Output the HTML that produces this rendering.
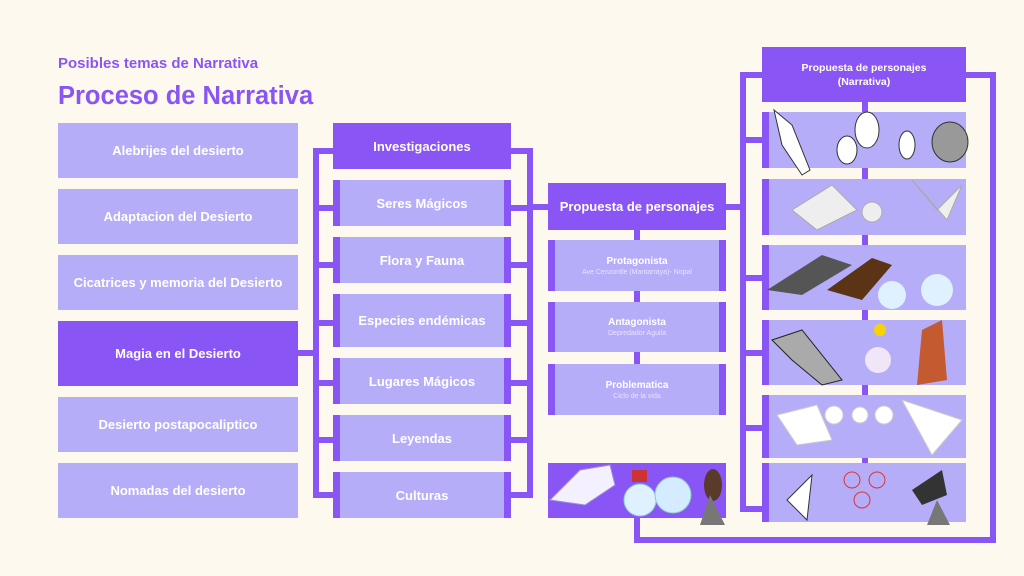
<!DOCTYPE html>
<html><head><meta charset="utf-8"><style>
*{margin:0;padding:0;box-sizing:border-box}
body{width:1024px;height:576px;background:#fdf9ef;position:relative;overflow:hidden;font-family:"Liberation Sans",sans-serif}
.a{position:absolute}
.d{position:absolute;background:#8a55f5}
.l{position:absolute;background:#b6adf9;color:#fff;font-weight:bold;font-size:13px;display:flex;flex-direction:column;align-items:center;justify-content:center;text-align:center}
.h{position:absolute;background:#8a55f5;color:#fff;font-weight:bold;display:flex;flex-direction:column;align-items:center;justify-content:center;text-align:center}
.s{border-left:7px solid #8a55f5;border-right:7px solid #8a55f5}
.sub{font-size:7px;font-weight:normal;color:#e8e4ff;margin-top:2px}
</style></head><body>
<div class="a" style="left:58px;top:55px;color:#8a55f5;font-weight:bold;font-size:15px">Posibles temas de Narrativa</div>
<div class="a" style="left:58px;top:82px;color:#8a55f5;font-weight:bold;font-size:25.5px">Proceso de Narrativa</div>

<div class="l" style="left:58px;top:123px;width:240px;height:55px">Alebrijes del desierto</div>
<div class="l" style="left:58px;top:189px;width:240px;height:55px">Adaptacion del Desierto</div>
<div class="l" style="left:58px;top:255px;width:240px;height:55px">Cicatrices y memoria del Desierto</div>
<div class="h" style="left:58px;top:321px;width:240px;height:65px;font-size:13px">Magia en el Desierto</div>
<div class="l" style="left:58px;top:397px;width:240px;height:55px">Desierto postapocaliptico</div>
<div class="l" style="left:58px;top:463px;width:240px;height:55px">Nomadas del desierto</div>

<div class="d" style="left:298px;top:350px;width:20px;height:6px"></div>
<div class="d" style="left:313px;top:148px;width:6px;height:350px"></div>
<div class="d" style="left:313px;top:148px;width:20px;height:6px"></div>
<div class="d" style="left:313px;top:492px;width:20px;height:6px"></div>
<div class="d" style="left:313px;top:205px;width:20px;height:6px"></div>
<div class="d" style="left:313px;top:262px;width:20px;height:6px"></div>
<div class="d" style="left:313px;top:320px;width:20px;height:6px"></div>
<div class="d" style="left:313px;top:380px;width:20px;height:6px"></div>
<div class="d" style="left:313px;top:437px;width:20px;height:6px"></div>

<div class="h" style="left:333px;top:123px;width:178px;height:46px;font-size:13px">Investigaciones</div>
<div class="l s" style="left:333px;top:180px;width:178px;height:46px">Seres Mágicos</div>
<div class="l s" style="left:333px;top:237px;width:178px;height:46px">Flora y Fauna</div>
<div class="l s" style="left:333px;top:294px;width:178px;height:53px">Especies endémicas</div>
<div class="l s" style="left:333px;top:358px;width:178px;height:46px">Lugares Mágicos</div>
<div class="l s" style="left:333px;top:415px;width:178px;height:46px">Leyendas</div>
<div class="l s" style="left:333px;top:472px;width:178px;height:46px">Culturas</div>

<div class="d" style="left:511px;top:148px;width:22px;height:6px"></div>
<div class="d" style="left:527px;top:148px;width:6px;height:350px"></div>
<div class="d" style="left:511px;top:492px;width:22px;height:6px"></div>
<div class="d" style="left:511px;top:205px;width:22px;height:6px"></div>
<div class="d" style="left:511px;top:262px;width:22px;height:6px"></div>
<div class="d" style="left:511px;top:320px;width:22px;height:6px"></div>
<div class="d" style="left:511px;top:380px;width:22px;height:6px"></div>
<div class="d" style="left:511px;top:437px;width:22px;height:6px"></div>
<div class="d" style="left:527px;top:204px;width:21px;height:6px"></div>

<div class="h" style="left:548px;top:183px;width:178px;height:47px;font-size:13px">Propuesta de personajes</div>
<div class="d" style="left:634px;top:230px;width:6px;height:140px"></div>
<div class="l s" style="left:548px;top:240px;width:178px;height:51px;font-size:10px">Protagonista<span class="sub">Ave Cenzontle (Mantarraya)- Nopal</span></div>
<div class="l s" style="left:548px;top:302px;width:178px;height:50px;font-size:10px">Antagonista<span class="sub">Depredador Aguila</span></div>
<div class="l s" style="left:548px;top:364px;width:178px;height:51px;font-size:10px">Problematica<span class="sub">Ciclo de la vida</span></div>

<div class="d" style="left:548px;top:463px;width:178px;height:55px"></div>
<svg class="a" style="left:540px;top:455px" width="195" height="70">
<path d="M10 45 L40 15 L70 10 L75 30 L45 50 Z" fill="#f4f0ff" stroke="#9a8fd8"/>
<ellipse cx="100" cy="45" rx="16" ry="16" fill="#dff0ff" stroke="#8cc"/>
<rect x="92" y="15" width="15" height="12" fill="#c33"/>
<ellipse cx="133" cy="40" rx="18" ry="18" fill="#d5ebff" stroke="#8cc"/>
<ellipse cx="173" cy="30" rx="9" ry="16" fill="#5a3a2a"/>
<path d="M160 70 L170 40 L185 70Z" fill="#777"/>
</svg>
<div class="d" style="left:634px;top:518px;width:6px;height:25px"></div>
<div class="d" style="left:634px;top:537px;width:362px;height:6px"></div>
<div class="d" style="left:990px;top:72px;width:6px;height:471px"></div>
<div class="d" style="left:960px;top:72px;width:36px;height:6px"></div>

<div class="d" style="left:726px;top:204px;width:20px;height:6px"></div>
<div class="d" style="left:740px;top:72px;width:6px;height:440px"></div>
<div class="d" style="left:740px;top:72px;width:25px;height:6px"></div>
<div class="d" style="left:740px;top:137px;width:25px;height:6px"></div>
<div class="d" style="left:740px;top:275px;width:25px;height:6px"></div>
<div class="d" style="left:740px;top:350px;width:25px;height:6px"></div>
<div class="d" style="left:740px;top:425px;width:25px;height:6px"></div>
<div class="d" style="left:740px;top:506px;width:25px;height:6px"></div>
<div class="d" style="left:862px;top:102px;width:6px;height:400px"></div>

<div class="h" style="left:762px;top:47px;width:204px;height:55px;font-size:10.5px;line-height:14px">Propuesta de personajes<br>(Narrativa)</div>
<div class="l s" style="left:762px;top:112px;width:204px;height:56px;border-right:none"></div>
<div class="l s" style="left:762px;top:179px;width:204px;height:56px;border-right:none"></div>
<div class="l s" style="left:762px;top:245px;width:204px;height:65px;border-right:none"></div>
<div class="l s" style="left:762px;top:320px;width:204px;height:65px;border-right:none"></div>
<div class="l s" style="left:762px;top:395px;width:204px;height:63px;border-right:none"></div>
<div class="l s" style="left:762px;top:463px;width:204px;height:59px;border-right:none"></div>
<svg class="a" style="left:762px;top:100px" width="210" height="430">
<g fill="#fff" stroke="#333" stroke-width="1">
<path d="M12 10 L30 25 L48 70 L40 75 L20 45Z"/>
<ellipse cx="85" cy="50" rx="10" ry="14"/><ellipse cx="105" cy="30" rx="12" ry="18"/>
<ellipse cx="145" cy="45" rx="8" ry="14"/><ellipse cx="188" cy="42" rx="18" ry="20" fill="#999"/>
</g>
<g fill="#eee" stroke="#aaa">
<path d="M30 110 L70 85 L95 110 L55 130Z"/><circle cx="110" cy="112" r="10"/><path d="M150 80 L185 120 L200 85 L175 110Z"/>
</g>
<path d="M5 190 L60 155 L90 165 L40 195Z" fill="#555"/>
<path d="M65 190 L110 158 L130 165 L100 200Z" fill="#5a3415"/>
<circle cx="130" cy="195" r="14" fill="#dff0ff"/><circle cx="175" cy="190" r="16" fill="#dff0ff"/>
<path d="M10 240 L40 230 L80 280 L60 285 L30 260Z" fill="#aaa" stroke="#222"/>
<circle cx="116" cy="260" r="13" fill="#f0e6f8"/><circle cx="118" cy="230" r="6" fill="#f5d400"/>
<path d="M160 230 L180 220 L185 280 L155 285Z" fill="#c45a30"/>
<g fill="#fff" stroke="#ccc"><path d="M15 315 L55 305 L70 340 L35 345Z"/><circle cx="72" cy="315" r="9"/><circle cx="98" cy="315" r="8"/><circle cx="122" cy="315" r="9"/><path d="M140 300 L200 320 L170 355 Z"/></g>
<g stroke="#333" fill="#fff"><path d="M25 400 L50 375 L45 420Z"/></g>
<g fill="none" stroke="#d33"><circle cx="90" cy="380" r="8"/><circle cx="100" cy="400" r="8"/><circle cx="115" cy="380" r="8"/></g>
<path d="M150 390 L180 370 L185 395 L160 405Z" fill="#333"/><path d="M165 425 L175 400 L188 425Z" fill="#777"/>
</svg>
</body></html>
